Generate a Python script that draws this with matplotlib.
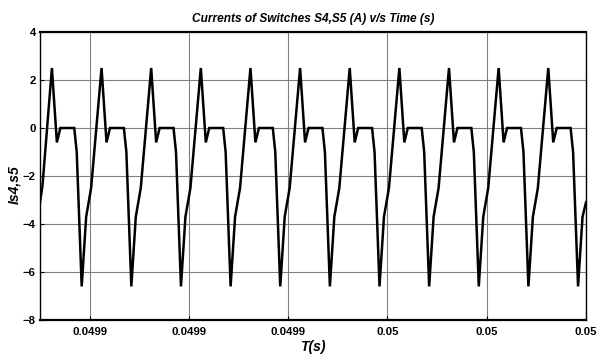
import matplotlib
matplotlib.use("Agg")
import matplotlib.pyplot as plt
import numpy as np

# time in microseconds after 0.04989 s, and switch current (A)
t_us = [0.0, 0.5,
        2.4, 3.4, 4.1, 6.9, 7.4, 8.4, 9.3, 10.3,
        12.4, 13.4, 14.1, 16.9, 17.4, 18.4, 19.3, 20.3,
        22.4, 23.4, 24.1, 26.9, 27.4, 28.4, 29.3, 30.3,
        32.4, 33.4, 34.1, 36.9, 37.4, 38.4, 39.3, 40.3,
        42.4, 43.4, 44.1, 46.9, 47.4, 48.4, 49.3, 50.3,
        52.4, 53.4, 54.1, 56.9, 57.4, 58.4, 59.3, 60.3,
        62.4, 63.4, 64.1, 66.9, 67.4, 68.4, 69.3, 70.3,
        72.4, 73.4, 74.1, 76.9, 77.4, 78.4, 79.3, 80.3,
        82.4, 83.4, 84.1, 86.9, 87.4, 88.4, 89.3, 90.3,
        92.4, 93.4, 94.1, 96.9, 97.4, 98.4, 99.3, 100.3,
        102.4, 103.4, 104.1, 106.9, 107.4, 108.4, 109.3, 110.0]
current = [-3.1, -2.4,
           2.5, -0.6, 0.0, 0.0, -1.0, -6.6, -3.7, -2.5,
           2.5, -0.6, 0.0, 0.0, -1.0, -6.6, -3.7, -2.5,
           2.5, -0.6, 0.0, 0.0, -1.0, -6.6, -3.7, -2.5,
           2.5, -0.6, 0.0, 0.0, -1.0, -6.6, -3.7, -2.5,
           2.5, -0.6, 0.0, 0.0, -1.0, -6.6, -3.7, -2.5,
           2.5, -0.6, 0.0, 0.0, -1.0, -6.6, -3.7, -2.5,
           2.5, -0.6, 0.0, 0.0, -1.0, -6.6, -3.7, -2.5,
           2.5, -0.6, 0.0, 0.0, -1.0, -6.6, -3.7, -2.5,
           2.5, -0.6, 0.0, 0.0, -1.0, -6.6, -3.7, -2.5,
           2.5, -0.6, 0.0, 0.0, -1.0, -6.6, -3.7, -2.5,
           2.5, -0.6, 0.0, 0.0, -1.0, -6.6, -3.7, -3.1]
t0 = 0.04989

xticks = [0.04990, 0.04992, 0.04994, 0.04996, 0.04998, 0.05000]
xtick_labels = ["0.0499", "0.0499", "0.0499", "0.05", "0.05", "0.05"]
yticks = [-8, -6, -4, -2, 0, 2, 4]

plt.rcParams['font.family'] = ['Liberation Sans', 'DejaVu Sans']

fig = plt.figure(figsize=(6.08, 3.58), dpi=100)
ax = fig.add_axes([40/608, 1-320/358, 546/608, 288/358])

t = t0 + np.array(t_us) * 1e-6
ax.plot(t, current, color='black', lw=1.8, solid_joinstyle='miter')

ax.set_xlim(t0, 0.05)
ax.set_ylim(-8, 4)
ax.set_xticks(xticks)
ax.set_xticklabels(xtick_labels)
ax.set_yticks(yticks)
ax.grid(True, color='#808080', lw=0.8)
ax.set_axisbelow(True)
ax.tick_params(direction='in', length=3, labelsize=8.2)
ax.tick_params(axis='x', pad=5)
ax.tick_params(axis='y', pad=3)
for lab in ax.get_xticklabels() + ax.get_yticklabels():
    lab.set_fontweight('bold')
for s in ['top', 'bottom']:
    ax.spines[s].set_linewidth(1.6)
for s in ['left', 'right']:
    ax.spines[s].set_linewidth(1.0)

ax.set_title("Currents of Switches S4,S5 (A) v/s Time (s)", fontsize=8.6,
             fontweight='bold', fontstyle='italic', pad=7)
ax.set_xlabel("T(s)", fontsize=10, fontweight='bold', fontstyle='italic', labelpad=2)
ax.set_ylabel("Is4,s5", fontsize=10, fontweight='bold', fontstyle='italic')
ax.yaxis.set_label_coords(-0.035, 0.47)

fig.savefig("out.png", dpi=100)
